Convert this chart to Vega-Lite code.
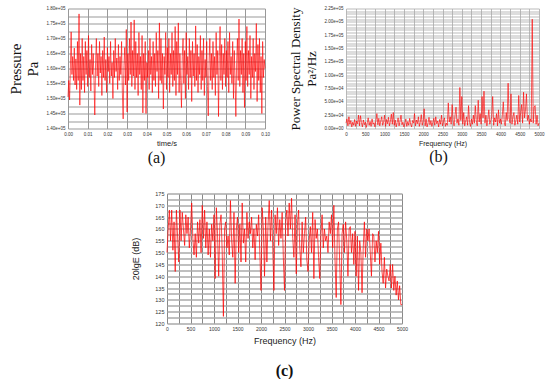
{
"$schema": "https://vega.github.io/schema/vega-lite/v6.json",
"padding": {"left": 8, "top": 5.5, "right": 0, "bottom": 0},
"background": "white",
"config": {
  "view": {"stroke": null},
  "axis": {"labelFont": "Liberation Sans", "labelFontSize": 4.5, "labelColor": "#333", "gridColor": "#999", "gridWidth": 1, "gridOpacity": 1, "domain": false, "ticks": false, "labelOverlap": false, "labelFlush": false, "labelPadding": 3, "titleFontWeight": "normal", "titleColor": "#222"}
},
"datasets": {
"pa": [{"t":0,"p":150500},{"t":0.0004,"p":156000},{"t":0.0008,"p":149500},{"t":0.0012,"p":160000},{"t":0.0016,"p":172200},{"t":0.002,"p":158000},{"t":0.0024,"p":164000},{"t":0.0028,"p":156000},{"t":0.0032,"p":166800},{"t":0.0036,"p":154500},{"t":0.004,"p":163200},{"t":0.0044,"p":153000},{"t":0.0048,"p":169000},{"t":0.0052,"p":156000},{"t":0.0056,"p":178200},{"t":0.006,"p":147800},{"t":0.0064,"p":165000},{"t":0.0068,"p":153000},{"t":0.0072,"p":170000},{"t":0.0076,"p":156000},{"t":0.008,"p":164000},{"t":0.0084,"p":152000},{"t":0.0088,"p":169000},{"t":0.0092,"p":158000},{"t":0.0096,"p":166000},{"t":0.01,"p":154000},
{"t":0.0104,"p":171000},{"t":0.0108,"p":157000},{"t":0.0112,"p":163000},{"t":0.0116,"p":152500},{"t":0.012,"p":168000},{"t":0.0124,"p":158000},{"t":0.0128,"p":165000},{"t":0.0132,"p":156000},{"t":0.0136,"p":144500},{"t":0.014,"p":162000},{"t":0.0144,"p":170000},{"t":0.0148,"p":157500},{"t":0.0152,"p":165000},{"t":0.0156,"p":154000},{"t":0.016,"p":169000},{"t":0.0164,"p":158500},{"t":0.0168,"p":164000},{"t":0.0172,"p":151000},{"t":0.0176,"p":166000},{"t":0.018,"p":157000},{"t":0.0184,"p":170500},{"t":0.0188,"p":156000},{"t":0.0192,"p":163000},{"t":0.0196,"p":152000},{"t":0.02,"p":167000},
{"t":0.0204,"p":159000},{"t":0.0208,"p":164000},{"t":0.0212,"p":155000},{"t":0.0216,"p":169000},{"t":0.022,"p":157500},{"t":0.0224,"p":162000},{"t":0.0228,"p":150000},{"t":0.0232,"p":166000},{"t":0.0236,"p":157000},{"t":0.024,"p":170000},{"t":0.0244,"p":159000},{"t":0.0248,"p":163500},{"t":0.0252,"p":153000},{"t":0.0256,"p":168000},{"t":0.026,"p":156000},{"t":0.0264,"p":164000},{"t":0.0268,"p":158000},{"t":0.0272,"p":169000},{"t":0.0276,"p":152000},{"t":0.028,"p":143200},{"t":0.0284,"p":161000},{"t":0.0288,"p":167000},{"t":0.0292,"p":154500},{"t":0.0296,"p":173000},{"t":0.03,"p":145500},
{"t":0.0304,"p":165000},{"t":0.0308,"p":156000},{"t":0.0312,"p":170000},{"t":0.0316,"p":158000},{"t":0.032,"p":175500},{"t":0.0324,"p":154000},{"t":0.0328,"p":166000},{"t":0.0332,"p":157500},{"t":0.0336,"p":176200},{"t":0.034,"p":153000},{"t":0.0344,"p":169000},{"t":0.0348,"p":157000},{"t":0.0352,"p":165000},{"t":0.0356,"p":151000},{"t":0.036,"p":172000},{"t":0.0364,"p":158000},{"t":0.0368,"p":164000},{"t":0.0372,"p":153000},{"t":0.0376,"p":171000},{"t":0.038,"p":145200},{"t":0.0384,"p":165000},{"t":0.0388,"p":156000},{"t":0.0392,"p":169000},{"t":0.0396,"p":145000},{"t":0.04,"p":162000},
{"t":0.0404,"p":157000},{"t":0.0408,"p":166000},{"t":0.0412,"p":153000},{"t":0.0416,"p":170000},{"t":0.042,"p":158000},{"t":0.0424,"p":164000},{"t":0.0428,"p":152000},{"t":0.0432,"p":169000},{"t":0.0436,"p":156000},{"t":0.044,"p":165000},{"t":0.0444,"p":154000},{"t":0.0448,"p":172000},{"t":0.0452,"p":159000},{"t":0.0456,"p":166000},{"t":0.046,"p":150000},{"t":0.0464,"p":175200},{"t":0.0468,"p":156000},{"t":0.0472,"p":170000},{"t":0.0476,"p":155000},{"t":0.048,"p":165000},{"t":0.0484,"p":146500},{"t":0.0488,"p":164000},{"t":0.0492,"p":158000},{"t":0.0496,"p":172000},{"t":0.05,"p":153000},
{"t":0.0504,"p":167000},{"t":0.0508,"p":157000},{"t":0.0512,"p":170000},{"t":0.0516,"p":152000},{"t":0.052,"p":165000},{"t":0.0524,"p":158000},{"t":0.0528,"p":172000},{"t":0.0532,"p":154000},{"t":0.0536,"p":166000},{"t":0.054,"p":156000},{"t":0.0544,"p":174000},{"t":0.0548,"p":151000},{"t":0.0552,"p":169000},{"t":0.0556,"p":158000},{"t":0.056,"p":175200},{"t":0.0564,"p":152000},{"t":0.0568,"p":165000},{"t":0.0572,"p":156000},{"t":0.0576,"p":147000},{"t":0.058,"p":164000},{"t":0.0584,"p":170000},{"t":0.0588,"p":155000},{"t":0.0592,"p":166000},{"t":0.0596,"p":150000},{"t":0.06,"p":172000},
{"t":0.0604,"p":158000},{"t":0.0608,"p":164000},{"t":0.0612,"p":153000},{"t":0.0616,"p":170000},{"t":0.062,"p":157000},{"t":0.0624,"p":166000},{"t":0.0628,"p":149000},{"t":0.0632,"p":169000},{"t":0.0636,"p":157500},{"t":0.064,"p":165000},{"t":0.0644,"p":154000},{"t":0.0648,"p":174200},{"t":0.0652,"p":156000},{"t":0.0656,"p":168000},{"t":0.066,"p":152000},{"t":0.0664,"p":164000},{"t":0.0668,"p":158000},{"t":0.0672,"p":171000},{"t":0.0676,"p":153000},{"t":0.068,"p":166000},{"t":0.0684,"p":156000},{"t":0.0688,"p":170000},{"t":0.0692,"p":151000},{"t":0.0696,"p":163000},{"t":0.07,"p":157000},
{"t":0.0704,"p":169000},{"t":0.0708,"p":154000},{"t":0.0712,"p":144200},{"t":0.0716,"p":162000},{"t":0.072,"p":170000},{"t":0.0724,"p":156000},{"t":0.0728,"p":165000},{"t":0.0732,"p":153000},{"t":0.0736,"p":169000},{"t":0.074,"p":157000},{"t":0.0744,"p":164000},{"t":0.0748,"p":151000},{"t":0.0752,"p":172000},{"t":0.0756,"p":158000},{"t":0.076,"p":166000},{"t":0.0764,"p":144000},{"t":0.0768,"p":164000},{"t":0.0772,"p":174000},{"t":0.0776,"p":156000},{"t":0.078,"p":168000},{"t":0.0784,"p":153000},{"t":0.0788,"p":165000},{"t":0.0792,"p":158000},{"t":0.0796,"p":170000},{"t":0.08,"p":154000},
{"t":0.0804,"p":166000},{"t":0.0808,"p":157000},{"t":0.0812,"p":169000},{"t":0.0816,"p":152000},{"t":0.082,"p":172000},{"t":0.0824,"p":158000},{"t":0.0828,"p":164000},{"t":0.0832,"p":155000},{"t":0.0836,"p":169000},{"t":0.084,"p":150000},{"t":0.0844,"p":166000},{"t":0.0848,"p":157000},{"t":0.0852,"p":144000},{"t":0.0856,"p":162000},{"t":0.086,"p":170000},{"t":0.0864,"p":156000},{"t":0.0868,"p":176500},{"t":0.0872,"p":154000},{"t":0.0876,"p":166000},{"t":0.088,"p":158000},{"t":0.0884,"p":170000},{"t":0.0888,"p":152000},{"t":0.0892,"p":165000},{"t":0.0896,"p":147000},{"t":0.09,"p":169000},
{"t":0.0904,"p":156000},{"t":0.0908,"p":174000},{"t":0.0912,"p":154000},{"t":0.0916,"p":166000},{"t":0.092,"p":158000},{"t":0.0924,"p":171000},{"t":0.0928,"p":150000},{"t":0.0932,"p":164000},{"t":0.0936,"p":157000},{"t":0.094,"p":170000},{"t":0.0944,"p":153000},{"t":0.0948,"p":165000},{"t":0.0952,"p":159000},{"t":0.0956,"p":175000},{"t":0.096,"p":149000},{"t":0.0964,"p":168000},{"t":0.0968,"p":156000},{"t":0.0972,"p":170000},{"t":0.0976,"p":152000},{"t":0.098,"p":164000},{"t":0.0984,"p":145000},{"t":0.0988,"p":169000},{"t":0.0992,"p":157000},{"t":0.0996,"p":163000},{"t":0.1,"p":160000}],
"psd": [{"f":0,"s":10000},{"f":25,"s":18000},{"f":50,"s":5000},{"f":75,"s":22000},{"f":100,"s":8000},{"f":125,"s":15000},{"f":150,"s":3000},{"f":175,"s":12000},{"f":200,"s":6000},{"f":225,"s":17000},{"f":250,"s":4000},{"f":275,"s":14000},{"f":300,"s":9000},{"f":325,"s":25000},{"f":350,"s":5000},{"f":375,"s":24000},{"f":400,"s":11000},{"f":425,"s":3000},{"f":450,"s":16000},{"f":475,"s":7000},{"f":500,"s":12000},
{"f":525,"s":2000},{"f":550,"s":10000},{"f":575,"s":20000},{"f":600,"s":6000},{"f":625,"s":13000},{"f":650,"s":4000},{"f":675,"s":18000},{"f":700,"s":8000},{"f":725,"s":11000},{"f":750,"s":3000},{"f":775,"s":15000},{"f":800,"s":28000},{"f":825,"s":7000},{"f":850,"s":19000},{"f":875,"s":5000},{"f":900,"s":14000},{"f":925,"s":22000},{"f":950,"s":6000},{"f":975,"s":12000},{"f":1000,"s":25000},
{"f":1025,"s":4000},{"f":1050,"s":17000},{"f":1075,"s":9000},{"f":1100,"s":21000},{"f":1125,"s":5000},{"f":1150,"s":13000},{"f":1175,"s":27000},{"f":1200,"s":8000},{"f":1225,"s":30000},{"f":1250,"s":6000},{"f":1275,"s":16000},{"f":1300,"s":3000},{"f":1325,"s":11000},{"f":1350,"s":20000},{"f":1375,"s":5000},{"f":1400,"s":14000},{"f":1425,"s":25000},{"f":1450,"s":7000},{"f":1475,"s":12000},{"f":1500,"s":3000},
{"f":1525,"s":9000},{"f":1550,"s":18000},{"f":1575,"s":4000},{"f":1600,"s":13000},{"f":1625,"s":6000},{"f":1650,"s":19000},{"f":1675,"s":8000},{"f":1700,"s":3000},{"f":1725,"s":15000},{"f":1750,"s":10000},{"f":1775,"s":28000},{"f":1800,"s":5000},{"f":1825,"s":16000},{"f":1850,"s":9000},{"f":1875,"s":22000},{"f":1900,"s":4000},{"f":1925,"s":12000},{"f":1950,"s":26000},{"f":1975,"s":6000},{"f":2000,"s":14000},
{"f":2025,"s":37000},{"f":2050,"s":5000},{"f":2075,"s":18000},{"f":2100,"s":3000},{"f":2125,"s":10000},{"f":2150,"s":21000},{"f":2175,"s":7000},{"f":2200,"s":15000},{"f":2225,"s":4000},{"f":2250,"s":12000},{"f":2275,"s":19000},{"f":2300,"s":6000},{"f":2325,"s":22000},{"f":2350,"s":9000},{"f":2375,"s":14000},{"f":2400,"s":3000},{"f":2425,"s":17000},{"f":2450,"s":8000},{"f":2475,"s":25000},{"f":2500,"s":5000},
{"f":2525,"s":13000},{"f":2550,"s":20000},{"f":2575,"s":4000},{"f":2600,"s":10000},{"f":2625,"s":6000},{"f":2650,"s":48000},{"f":2675,"s":12000},{"f":2700,"s":22000},{"f":2725,"s":8000},{"f":2750,"s":45000},{"f":2775,"s":15000},{"f":2800,"s":5000},{"f":2825,"s":25000},{"f":2850,"s":40000},{"f":2875,"s":10000},{"f":2900,"s":18000},{"f":2925,"s":6000},{"f":2950,"s":77000},{"f":2975,"s":15000},{"f":3000,"s":60000},
{"f":3025,"s":8000},{"f":3050,"s":30000},{"f":3075,"s":5000},{"f":3100,"s":14000},{"f":3125,"s":22000},{"f":3150,"s":6000},{"f":3175,"s":43000},{"f":3200,"s":12000},{"f":3225,"s":4000},{"f":3250,"s":18000},{"f":3275,"s":8000},{"f":3300,"s":25000},{"f":3325,"s":10000},{"f":3350,"s":43000},{"f":3375,"s":15000},{"f":3400,"s":5000},{"f":3425,"s":53000},{"f":3450,"s":12000},{"f":3475,"s":28000},{"f":3500,"s":8000},
{"f":3525,"s":60000},{"f":3550,"s":20000},{"f":3575,"s":70000},{"f":3600,"s":10000},{"f":3625,"s":25000},{"f":3650,"s":5000},{"f":3675,"s":18000},{"f":3700,"s":35000},{"f":3725,"s":8000},{"f":3750,"s":15000},{"f":3775,"s":22000},{"f":3800,"s":60000},{"f":3825,"s":6000},{"f":3850,"s":20000},{"f":3875,"s":12000},{"f":3900,"s":28000},{"f":3925,"s":5000},{"f":3950,"s":35000},{"f":3975,"s":10000},{"f":4000,"s":18000},
{"f":4025,"s":8000},{"f":4050,"s":25000},{"f":4075,"s":50000},{"f":4100,"s":12000},{"f":4125,"s":5000},{"f":4150,"s":30000},{"f":4175,"s":15000},{"f":4200,"s":85000},{"f":4225,"s":20000},{"f":4250,"s":10000},{"f":4275,"s":65000},{"f":4300,"s":8000},{"f":4325,"s":22000},{"f":4350,"s":30000},{"f":4375,"s":6000},{"f":4400,"s":15000},{"f":4425,"s":25000},{"f":4450,"s":8000},{"f":4475,"s":62000},{"f":4500,"s":12000},
{"f":4525,"s":30000},{"f":4550,"s":45000},{"f":4575,"s":10000},{"f":4600,"s":68000},{"f":4625,"s":20000},{"f":4650,"s":35000},{"f":4675,"s":65000},{"f":4700,"s":15000},{"f":4725,"s":25000},{"f":4750,"s":8000},{"f":4775,"s":18000},{"f":4800,"s":12000},{"f":4825,"s":205000},{"f":4850,"s":10000},{"f":4875,"s":40000},{"f":4900,"s":43000},{"f":4925,"s":8000},{"f":4950,"s":25000},{"f":4975,"s":5000},{"f":5000,"s":10000}],
"db": [{"f":0,"d":150},{"f":25,"d":160},{"f":50,"d":168},{"f":75,"d":155},{"f":100,"d":168},{"f":125,"d":151},{"f":150,"d":163},{"f":175,"d":142},{"f":200,"d":168},{"f":225,"d":157},{"f":250,"d":146},{"f":275,"d":168},{"f":300,"d":155},{"f":325,"d":167},{"f":350,"d":160},{"f":375,"d":153},{"f":400,"d":166},{"f":425,"d":158},{"f":450,"d":165},{"f":475,"d":152},{"f":500,"d":160},
{"f":525,"d":171},{"f":550,"d":156},{"f":575,"d":149},{"f":600,"d":158},{"f":625,"d":148},{"f":650,"d":163},{"f":675,"d":154},{"f":700,"d":164},{"f":725,"d":150},{"f":750,"d":170},{"f":775,"d":156},{"f":800,"d":168},{"f":825,"d":152},{"f":850,"d":163},{"f":875,"d":149},{"f":900,"d":160},{"f":925,"d":148},{"f":950,"d":162},{"f":975,"d":155},{"f":1000,"d":166},
{"f":1025,"d":139},{"f":1050,"d":169},{"f":1075,"d":158},{"f":1100,"d":140},{"f":1125,"d":162},{"f":1150,"d":166},{"f":1175,"d":150},{"f":1200,"d":123},{"f":1225,"d":160},{"f":1250,"d":163},{"f":1275,"d":152},{"f":1300,"d":157},{"f":1325,"d":149},{"f":1350,"d":172},{"f":1375,"d":155},{"f":1400,"d":148},{"f":1425,"d":167},{"f":1450,"d":137},{"f":1475,"d":160},{"f":1500,"d":165},
{"f":1525,"d":150},{"f":1550,"d":162},{"f":1575,"d":146},{"f":1600,"d":171},{"f":1625,"d":154},{"f":1650,"d":160},{"f":1675,"d":146},{"f":1700,"d":167},{"f":1725,"d":156},{"f":1750,"d":163},{"f":1775,"d":158},{"f":1800,"d":165},{"f":1825,"d":152},{"f":1850,"d":160},{"f":1875,"d":147},{"f":1900,"d":162},{"f":1925,"d":157},{"f":1950,"d":166},{"f":1975,"d":150},{"f":2000,"d":134},
{"f":2025,"d":169},{"f":2050,"d":160},{"f":2075,"d":140},{"f":2100,"d":165},{"f":2125,"d":146},{"f":2150,"d":162},{"f":2175,"d":172},{"f":2200,"d":155},{"f":2225,"d":168},{"f":2250,"d":152},{"f":2275,"d":134},{"f":2300,"d":166},{"f":2325,"d":158},{"f":2350,"d":169},{"f":2375,"d":153},{"f":2400,"d":164},{"f":2425,"d":156},{"f":2450,"d":167},{"f":2475,"d":148},{"f":2500,"d":134},
{"f":2525,"d":163},{"f":2550,"d":168},{"f":2575,"d":157},{"f":2600,"d":171},{"f":2625,"d":160},{"f":2650,"d":173},{"f":2675,"d":156},{"f":2700,"d":148},{"f":2725,"d":166},{"f":2750,"d":141},{"f":2775,"d":162},{"f":2800,"d":168},{"f":2825,"d":152},{"f":2850,"d":144},{"f":2875,"d":163},{"f":2900,"d":150},{"f":2925,"d":158},{"f":2950,"d":165},{"f":2975,"d":147},{"f":3000,"d":142},
{"f":3025,"d":155},{"f":3050,"d":161},{"f":3075,"d":150},{"f":3100,"d":167},{"f":3125,"d":139},{"f":3150,"d":164},{"f":3175,"d":156},{"f":3200,"d":160},{"f":3225,"d":148},{"f":3250,"d":139},{"f":3275,"d":158},{"f":3300,"d":166},{"f":3325,"d":152},{"f":3350,"d":160},{"f":3375,"d":155},{"f":3400,"d":157},{"f":3425,"d":150},{"f":3450,"d":163},{"f":3475,"d":158},{"f":3500,"d":166},
{"f":3525,"d":152},{"f":3550,"d":170},{"f":3575,"d":147},{"f":3600,"d":131},{"f":3625,"d":160},{"f":3650,"d":163},{"f":3675,"d":145},{"f":3700,"d":128},{"f":3725,"d":158},{"f":3750,"d":162},{"f":3775,"d":150},{"f":3800,"d":163},{"f":3825,"d":155},{"f":3850,"d":140},{"f":3875,"d":160},{"f":3900,"d":161},{"f":3925,"d":150},{"f":3950,"d":158},{"f":3975,"d":145},{"f":4000,"d":159},
{"f":4025,"d":140},{"f":4050,"d":157},{"f":4075,"d":134},{"f":4100,"d":155},{"f":4125,"d":150},{"f":4150,"d":133},{"f":4175,"d":152},{"f":4200,"d":163},{"f":4225,"d":148},{"f":4250,"d":160},{"f":4275,"d":155},{"f":4300,"d":160},{"f":4325,"d":150},{"f":4350,"d":140},{"f":4375,"d":158},{"f":4400,"d":157},{"f":4425,"d":146},{"f":4450,"d":155},{"f":4475,"d":150},{"f":4500,"d":159},
{"f":4525,"d":145},{"f":4550,"d":154},{"f":4575,"d":142},{"f":4600,"d":137},{"f":4625,"d":148},{"f":4650,"d":135},{"f":4675,"d":143},{"f":4700,"d":140},{"f":4725,"d":138},{"f":4750,"d":145},{"f":4775,"d":135},{"f":4800,"d":145},{"f":4825,"d":134},{"f":4850,"d":140},{"f":4875,"d":132},{"f":4900,"d":138},{"f":4925,"d":130},{"f":4950,"d":136},{"f":4975,"d":128},{"f":5000,"d":128}]
},
"bounds": "flush",
"spacing": 185,
"vconcat": [
{
 "hconcat": [
  {
   "width": 197, "height": 120,
   "data": {"name": "pa"},
   "mark": {"type": "line", "color": "#ff0000", "strokeWidth": 0.7, "opacity": 0.9},
   "encoding": {
    "x": {"field": "t", "type": "quantitative", "scale": {"domain": [0, 0.1], "nice": false, "zero": false},
          "axis": {"values": [0,0.01,0.02,0.03,0.04,0.05,0.06,0.07,0.08,0.09,0.1], "format": ".2f", "title": "time/s", "titleFont": "Liberation Sans", "titleFontSize": 7.5, "titlePadding": 3}},
    "y": {"field": "p", "type": "quantitative", "scale": {"domain": [140000, 180000], "nice": false, "zero": false},
          "axis": {"values": [140000,142500,145000,147500,150000,152500,155000,157500,160000,162500,165000,167500,170000,172500,175000,177500,180000],
                   "labelExpr": "datum.value % 5000 == 0 ? replace(format(datum.value, '.2e'), 'e+', 'e+0') : ''",
                   "title": ["Pressure", "Pa"], "titleFont": "Liberation Serif", "titleFontSize": 15, "titleLineHeight": 17, "titlePadding": 6, "titleColor": "#111"}}
   },
   "title": {"text": "(a)", "orient": "bottom", "font": "Liberation Serif", "fontSize": 16, "fontWeight": "normal", "color": "#111", "offset": 3, "dx": -10}
  },
  {
   "width": 193, "height": 120,
   "data": {"name": "psd"},
   "mark": {"type": "line", "color": "#ff0000", "strokeWidth": 0.7, "opacity": 0.9},
   "encoding": {
    "x": {"field": "f", "type": "quantitative", "scale": {"domain": [0, 5000], "nice": false, "zero": false},
          "axis": {"values": [0,250,500,750,1000,1250,1500,1750,2000,2250,2500,2750,3000,3250,3500,3750,4000,4250,4500,4750,5000],
                   "labelExpr": "datum.value % 500 == 0 ? format(datum.value, 'd') : ''",
                   "gridColor": "#aaa", "gridWidth": 0.8,
                   "title": "Frequency (Hz)", "titleFont": "Liberation Sans", "titleFontSize": 7, "titlePadding": 3}},
    "y": {"field": "s", "type": "quantitative", "scale": {"domain": [0, 225000], "nice": false, "zero": false},
          "axis": {"values": [0,5000,10000,15000,20000,25000,30000,35000,40000,45000,50000,55000,60000,65000,70000,75000,80000,85000,90000,95000,100000,105000,110000,115000,120000,125000,130000,135000,140000,145000,150000,155000,160000,165000,170000,175000,180000,185000,190000,195000,200000,205000,210000,215000,220000,225000],
                   "labelExpr": "datum.value % 25000 == 0 ? replace(format(datum.value, '.2e'), 'e+', 'e+0') : ''",
                   "gridColor": "#aaa", "gridWidth": 0.8,
                   "title": ["Power Spectral Density", "Pa²/Hz"], "titleFont": "Liberation Serif", "titleFontSize": 13, "titleLineHeight": 16, "titlePadding": 6, "titleColor": "#111"}}
   },
   "title": {"text": "(b)", "orient": "bottom", "font": "Liberation Serif", "fontSize": 16, "fontWeight": "normal", "color": "#111", "offset": 3, "dx": -4}
  }
 ],
 "spacing": 81,
 "bounds": "flush"
},
{
 "hconcat": [
  {
   "width": 1, "height": 1,
   "data": {"values": []},
   "mark": {"type": "point", "opacity": 0},
   "encoding": {}
  },
  {
   "width": 235, "height": 130,
   "data": {"name": "db"},
   "mark": {"type": "line", "color": "#ff0000", "strokeWidth": 0.8, "opacity": 0.9},
   "encoding": {
    "x": {"field": "f", "type": "quantitative", "scale": {"domain": [0, 5000], "nice": false, "zero": false},
          "axis": {"values": [0,250,500,750,1000,1250,1500,1750,2000,2250,2500,2750,3000,3250,3500,3750,4000,4250,4500,4750,5000],
                   "labelExpr": "datum.value % 500 == 0 ? format(datum.value, 'd') : ''",
                   "labelFontSize": 5, "gridColor": "#888", "gridWidth": 1,
                   "title": "Frequency (Hz)", "titleFont": "Liberation Sans", "titleFontSize": 9, "titlePadding": 5}},
    "y": {"field": "d", "type": "quantitative", "scale": {"domain": [120, 175], "nice": false, "zero": false},
          "axis": {"values": [120,122.5,125,127.5,130,132.5,135,137.5,140,142.5,145,147.5,150,152.5,155,157.5,160,162.5,165,167.5,170,172.5,175],
                   "labelExpr": "datum.value % 5 == 0 ? format(datum.value, 'd') : ''",
                   "labelFontSize": 5.5, "gridColor": "#aaa", "gridWidth": 1.5,
                   "title": "20lgE (dB)", "titleFont": "Liberation Sans", "titleFontSize": 9, "titlePadding": 14}}
   },
   "title": {"text": "(c)", "orient": "bottom", "font": "Liberation Serif", "fontSize": 16, "fontWeight": "bold", "color": "#111", "offset": 17}
  }
 ],
 "spacing": 98,
 "bounds": "flush"
}
]
}
